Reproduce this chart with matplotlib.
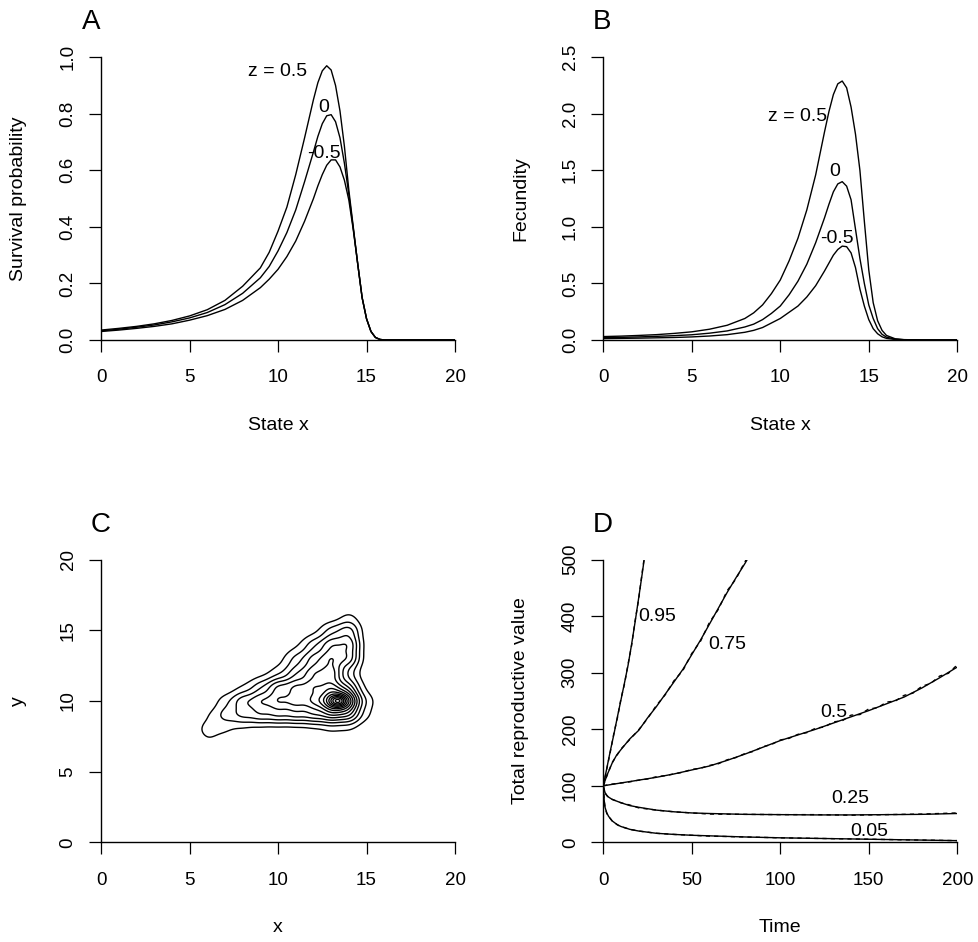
import matplotlib
matplotlib.use("Agg")
import matplotlib.pyplot as plt
import numpy as np

plt.rcParams['font.family'] = ['Liberation Sans', 'DejaVu Sans']
plt.rcParams['font.size'] = 14
plt.rcParams['xtick.labelsize'] = 13.5
plt.rcParams['ytick.labelsize'] = 13.5

# A: survival probability against state x for three values of z
state_a = [0, 1, 2, 3, 4, 5, 6, 7, 8, 9, 9.5, 10, 10.5, 11, 11.5, 12, 12.25, 12.5, 12.75,
           13, 13.25, 13.5, 13.75, 14, 14.25, 14.5, 14.75, 15, 15.25, 15.5, 15.75, 16, 17, 20]
surv_hi = [0.035, 0.041, 0.048, 0.057, 0.069, 0.085, 0.107, 0.14, 0.19, 0.255, 0.31, 0.385, 0.47,
           0.585, 0.715, 0.85, 0.91, 0.952, 0.97, 0.955, 0.9, 0.81, 0.685, 0.53, 0.40, 0.27,
           0.15, 0.075, 0.03, 0.009, 0.002, 0, 0, 0]
surv_mid = [0.032, 0.038, 0.045, 0.053, 0.064, 0.078, 0.097, 0.125, 0.165, 0.22, 0.26, 0.315, 0.38,
            0.46, 0.56, 0.665, 0.72, 0.765, 0.793, 0.797, 0.772, 0.715, 0.625, 0.515, 0.395, 0.27,
            0.15, 0.075, 0.03, 0.009, 0.002, 0, 0, 0]
surv_lo = [0.03, 0.035, 0.041, 0.048, 0.057, 0.07, 0.086, 0.108, 0.14, 0.185, 0.215, 0.25, 0.295,
           0.35, 0.42, 0.50, 0.545, 0.585, 0.618, 0.637, 0.637, 0.612, 0.565, 0.495, 0.39, 0.27,
           0.15, 0.075, 0.03, 0.009, 0.002, 0, 0, 0]

# B: fecundity against state x
state_b = [0, 1, 2, 3, 4, 5, 6, 7, 8, 8.5, 9, 9.5, 10, 10.5, 11, 11.5, 12, 12.5, 12.75, 13,
           13.25, 13.5, 13.75, 14, 14.25, 14.5, 14.75, 15, 15.25, 15.5, 15.75, 16, 16.5, 17, 18, 20]
fec_hi = [0.03, 0.034, 0.04, 0.047, 0.058, 0.072, 0.095, 0.13, 0.19, 0.24, 0.31, 0.41, 0.53, 0.70,
          0.90, 1.15, 1.46, 1.84, 2.02, 2.17, 2.265, 2.29, 2.23, 2.06, 1.82, 1.50, 1.05, 0.62,
          0.33, 0.17, 0.085, 0.04, 0.01, 0.003, 0, 0]
fec_mid = [0.02, 0.023, 0.027, 0.032, 0.038, 0.046, 0.06, 0.08, 0.115, 0.14, 0.18, 0.235, 0.30,
           0.40, 0.52, 0.67, 0.86, 1.08, 1.20, 1.31, 1.38, 1.40, 1.36, 1.24, 0.98, 0.72, 0.50,
           0.31, 0.19, 0.10, 0.05, 0.025, 0.007, 0.002, 0, 0]
fec_lo = [0.012, 0.014, 0.016, 0.019, 0.022, 0.027, 0.035, 0.047, 0.068, 0.085, 0.11, 0.15, 0.19,
          0.245, 0.30, 0.38, 0.48, 0.61, 0.68, 0.75, 0.80, 0.83, 0.825, 0.77, 0.64, 0.45, 0.30,
          0.18, 0.10, 0.055, 0.028, 0.014, 0.004, 0.001, 0, 0]

z_labels = ["z = 0.5", "0", "-0.5"]

# C: density of (x, y) on a coarse lattice (in contour-level units), smoothed for drawing
body_x = [6, 7, 8, 9, 10, 11, 12, 13, 14, 15]
body_y = [16, 15, 14, 13, 12, 11, 10, 9, 8, 7]
body_level = [
    [0.0, 0.0, 0.0, 0.0, 0.0, 0.0, 0.0, 0.0, 1.2, 0.0],
    [0.0, 0.0, 0.0, 0.0, 0.0, 0.0, 0.3, 2.4, 4.0, 0.0],
    [0.0, 0.0, 0.0, 0.0, 0.0, 0.5, 2.6, 5.0, 5.4, 0.0],
    [0.0, 0.0, 0.0, 0.0, 0.4, 2.3, 4.4, 6.2, 5.2, 0.0],
    [0.0, 0.0, 0.0, 0.3, 1.3, 3.6, 5.8, 7.0, 2.0, 0.0],
    [0.0, 0.0, 0.8, 2.6, 5.5, 6.2, 6.8, 7.0, 4.2, 0.3],
    [0.0, 1.5, 4.0, 5.2, 6.2, 6.6, 6.8, 7.0, 6.0, 1.5],
    [0.8, 2.6, 3.4, 4.0, 4.3, 4.5, 4.8, 5.5, 5.0, 1.0],
    [1.6, 1.0, 0.6, 0.3, 0.2, 0.2, 0.4, 0.9, 0.8, 0.0],
    [0.8, 0.6, 0.0, 0.0, 0.0, 0.0, 0.0, 0.0, 0.0, 0.0],
]
body_sd = 0.5
# sharp peak on top of the body
peak_x = [13.4, 13.4]
peak_y = [10.0, 10.0]
peak_sx = [0.28, 0.65]
peak_sy = [0.25, 0.55]
peak_h = [3.0, 5.0]
n_levels = 14

# D: total reproductive value over time, model (solid) and simulation (dashed)
t95 = [0, 2, 4, 6, 8, 10, 12, 14, 16, 18, 20, 22, 24]
v95 = [100, 131, 162, 191, 222, 252, 282, 313, 350, 390, 432, 475, 520]
v95_sim = [100, 130, 160, 193, 220, 254, 280, 315, 348, 392, 430, 478, 522]

t75 = [0, 2, 5, 7.5, 10, 15, 20, 25, 30, 35, 40, 45, 50, 55, 60, 65, 70, 75, 80, 85]
v75 = [100, 118, 140, 154, 164, 183, 198, 220, 240, 262, 284, 306, 332, 358, 386, 414, 442, 468, 493, 520]
v75_sim = [100, 117, 141, 153, 165, 182, 199, 219, 242, 261, 286, 304, 334, 356, 389, 412, 445, 466, 496, 522]

t50 = [0, 10, 20, 30, 40, 50, 60, 70, 80, 90, 100, 110, 120, 130, 140, 150, 160, 170, 180, 190, 200]
v50 = [100, 105, 110, 115, 121, 128, 135, 145, 156, 168, 180, 190, 200, 211, 222, 233, 245, 257, 273, 291, 310]
t50_sim = [0, 5, 10, 15, 20, 25, 30, 35, 40, 45, 50, 55, 60, 65, 70, 75, 80, 85, 90, 95, 100,
           105, 110, 115, 120, 125, 130, 135, 140, 145, 150, 155, 160, 165, 170, 175, 180, 185, 190, 195, 200]
v50_sim = [100, 103, 105, 107, 110, 112, 116, 118, 121, 124, 129, 131, 136, 139, 146, 150, 157, 161, 169,
           173, 181, 184, 191, 194, 202, 204, 213, 215, 225, 226, 236, 238, 248, 250, 260, 264, 276,
           281, 294, 299, 314]

t25 = [0, 1, 2, 3, 5, 10, 15, 20, 30, 40, 50, 60, 80, 100, 120, 140, 160, 180, 200]
v25 = [100, 88, 83, 80, 76, 70, 65, 62, 57, 54, 52, 51, 49.5, 49, 48.5, 48.5, 49, 49.5, 51]
v25_sim = [100, 87, 83, 79, 76, 70, 66, 61, 57, 54, 52, 50, 49.5, 49, 49, 48, 49, 50, 52]

t05 = [0, 0.5, 1, 2, 3, 5, 8, 10, 15, 20, 30, 40, 50, 60, 80, 100, 120, 140, 160, 180, 200]
v05 = [100, 75, 62, 52, 46, 38, 31, 28, 23, 20, 16, 14, 12.5, 11.5, 9.5, 8, 7, 6, 5, 4, 3]
v05_sim = [100, 74, 62, 51, 46, 38, 31, 28, 23, 20, 16, 14, 12.5, 11, 9.5, 8, 7, 6, 5, 4, 3]

d_labels = ["0.95", "0.75", "0.5", "0.25", "0.05"]
d_label_pos = [(30.2, 399), (70.2, 350), (130, 229), (139.8, 78), (150.1, 19)]


def style_axes(ax, xmax, ymax, xticks, yticks, yfmt):
    ax.set_xlim(0, xmax)
    ax.set_ylim(0, ymax)
    ax.set_xticks(xticks)
    ax.set_yticks(yticks)
    ax.set_yticklabels([yfmt.format(v) for v in yticks])
    for s in ["top", "right"]:
        ax.spines[s].set_visible(False)
    for s in ["left", "bottom"]:
        ax.spines[s].set_linewidth(1.0)
    ax.tick_params(direction="out", length=8.6, width=0.9)
    ax.tick_params(axis="x", pad=12.5)
    ax.tick_params(axis="y", pad=9.0, labelrotation=90)
    for lab in ax.get_yticklabels():
        lab.set_va("center")


def labels(ax, letter, xlab, ylab, letter_dx):
    ax.text(letter_dx, 1.099, letter, transform=ax.transAxes, fontsize=20,
            ha="left", va="baseline")
    ax.text(0.5, -0.318, xlab, transform=ax.transAxes, ha="center", va="baseline")
    ax.text(-0.22, 0.5, ylab, transform=ax.transAxes, ha="center", va="baseline",
            rotation=90, rotation_mode="anchor")


fig = plt.figure(figsize=(9.79, 9.42), dpi=100)
w, h = 0.3616, 0.3001
axA = fig.add_axes([0.1032, 0.6391, w, h])
axB = fig.add_axes([0.6162, 0.6391, w, h])
axC = fig.add_axes([0.1032, 0.1058, w, h])
axD = fig.add_axes([0.6162, 0.1058, w, h])

lw = 1.0

# A
for ys in (surv_hi, surv_mid, surv_lo):
    axA.plot(state_a, ys, color="k", lw=lw)
style_axes(axA, 20, 1.0, [0, 5, 10, 15, 20], [0, 0.2, 0.4, 0.6, 0.8, 1.0], "{:.1f}")
axA.text(9.97, 0.95, z_labels[0], ha="center", va="center")
axA.text(12.6, 0.824, z_labels[1], ha="center", va="center")
axA.text(12.6, 0.66, z_labels[2], ha="center", va="center")
labels(axA, "A", "State x", "Survival probability", -0.054)

# B
for ys in (fec_hi, fec_mid, fec_lo):
    axB.plot(state_b, ys, color="k", lw=lw)
style_axes(axB, 20, 2.5, [0, 5, 10, 15, 20], [0, 0.5, 1.0, 1.5, 2.0, 2.5], "{:.1f}")
axB.text(10.96, 1.98, z_labels[0], ha="center", va="center")
axB.text(13.09, 1.49, z_labels[1], ha="center", va="center")
axB.text(13.19, 0.90, z_labels[2], ha="center", va="center")
labels(axB, "B", "State x", "Fecundity", -0.029)

# C
gx = np.linspace(0, 20, 401)
X, Y = np.meshgrid(gx, gx)
Z = np.zeros_like(X)
norm = 1.0 / (2 * np.pi * body_sd ** 2)
for j, by in enumerate(body_y):
    for i, bx in enumerate(body_x):
        lev = body_level[j][i]
        if lev > 0:
            Z += lev * norm * np.exp(-((X - bx) ** 2 + (Y - by) ** 2) / (2 * body_sd ** 2))
for mx, my, sx, sy, hh in zip(peak_x, peak_y, peak_sx, peak_sy, peak_h):
    Z += hh * np.exp(-0.5 * (((X - mx) / sx) ** 2 + ((Y - my) / sy) ** 2))
axC.contour(X, Y, Z, levels=np.arange(1, n_levels + 1), colors="k", linewidths=lw)
style_axes(axC, 20, 20, [0, 5, 10, 15, 20], [0, 5, 10, 15, 20], "{:d}")
labels(axC, "C", "x", "y", -0.029)

# D
for tt, vv in ((t95, v95), (t75, v75), (t50, v50), (t25, v25), (t05, v05)):
    axD.plot(tt, vv, color="k", lw=lw)
for tt, vv in ((t95, v95_sim), (t75, v75_sim), (t50_sim, v50_sim), (t25, v25_sim), (t05, v05_sim)):
    axD.plot(tt, vv, color="k", lw=lw, ls=(0, (3, 3)))
style_axes(axD, 200, 500, [0, 50, 100, 150, 200], [0, 100, 200, 300, 400, 500], "{:d}")
for lab, (tx, ty) in zip(d_labels, d_label_pos):
    axD.text(tx, ty, lab, ha="center", va="center")
labels(axD, "D", "Time", "Total reproductive value", -0.029)

fig.savefig("out.png", dpi=100)
